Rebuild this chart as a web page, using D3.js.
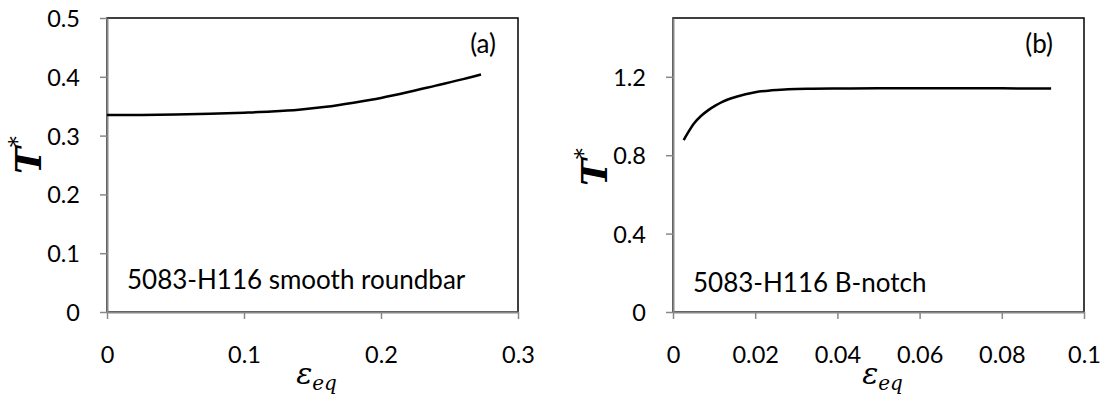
<!DOCTYPE html>
<html>
<head>
<meta charset="utf-8">
<script src="https://cdn.jsdelivr.net/npm/d3@7"></script>
<style>
    body { margin: 0; background: #fff; }
    svg { display: block; }
    .tick-label { font-family: Lato, "Open Sans", sans-serif; font-size: 23.5px; fill: #000; }
    .note { font-family: Lato, "Open Sans", sans-serif; font-size: 26px; fill: #000; }
    .math { font-family: "DejaVu Serif", "Liberation Serif", serif; font-style: italic; fill: #000; }
</style>
</head>
<body>
<svg id="chart" width="1111" height="396"></svg>
<script>
// panel (a): 5083-H116 smooth roundbar
const strainA = [0, 0.025, 0.05, 0.075, 0.1, 0.12, 0.14, 0.16, 0.18, 0.2, 0.22, 0.24, 0.26, 0.273];
const tStarA  = [0.335, 0.3352, 0.336, 0.337, 0.339, 0.341, 0.344, 0.349, 0.356, 0.364, 0.374, 0.385, 0.396, 0.404];
const xTicksA = [0, 0.1, 0.2, 0.3];
const yTicksA = [0, 0.1, 0.2, 0.3, 0.4, 0.5];

// panel (b): 5083-H116 B-notch
const strainB = [0.0026, 0.0035, 0.0051, 0.0068, 0.0086, 0.0104, 0.012, 0.0154, 0.02, 0.024, 0.028, 0.034, 0.041, 0.05, 0.06, 0.07, 0.08, 0.092];
const tStarB  = [0.877, 0.91, 0.962, 1.0, 1.03, 1.054, 1.072, 1.098, 1.121, 1.131, 1.137, 1.139, 1.14, 1.141, 1.141, 1.141, 1.141, 1.14];
const xTicksB = [0, 0.02, 0.04, 0.06, 0.08, 0.1];
const yTicksB = [0, 0.4, 0.8, 1.2];

class Panel {
    constructor(svg, opts) {
        this.svg = svg;
        this.opts = opts;
    }

    draw() {
        const o = this.opts;
        const g = this.svg.append("g");

        const x = d3.scaleLinear().domain(o.xDomain).range([o.left, o.right]);
        const y = d3.scaleLinear().domain(o.yDomain).range([o.bottom, o.top]);

        // plot area frame
        g.append("rect")
            .attr("x", o.left).attr("y", o.top)
            .attr("width", o.right - o.left).attr("height", o.bottom - o.top)
            .attr("fill", "none").attr("stroke", "#000").attr("stroke-width", 1.5);

        const xAxis = g.append("g")
            .attr("transform", `translate(0, ${o.bottom})`)
            .call(d3.axisBottom(x).tickValues(o.xTicks).tickSize(7).tickSizeOuter(0).tickFormat(d => String(d)));
        const yAxis = g.append("g")
            .attr("transform", `translate(${o.left}, 0)`)
            .call(d3.axisLeft(y).tickValues(o.yTicks).tickSize(7).tickSizeOuter(0).tickFormat(d => String(d)));

        [xAxis, yAxis].forEach(ax => {
            ax.select(".domain").attr("stroke", "#888").attr("stroke-width", 2);
            ax.selectAll(".tick line").attr("stroke", "#888").attr("stroke-width", 1.5);
            ax.selectAll(".tick text").attr("class", "tick-label").attr("font-size", null).attr("font-family", null);
        });
        xAxis.selectAll(".tick text").attr("dy", null).attr("y", 51);
        yAxis.selectAll(".tick text").attr("x", -27).attr("dy", "0.36em");

        const line = d3.line()
            .x((d, i) => x(o.xs[i]))
            .y(d => y(d))
            .curve(d3.curveMonotoneX);

        g.append("path")
            .datum(o.ys)
            .attr("d", line)
            .attr("fill", "none")
            .attr("stroke", "#000")
            .attr("stroke-width", 2.5);

        // letter and specimen note
        g.append("text").attr("class", "note")
            .attr("x", o.letterX).attr("y", 53)
            .attr("text-anchor", "end")
            .text(o.letter);
        g.append("text").attr("class", "note")
            .attr("x", o.left + 20).attr("y", o.noteY)
            .text(o.note);

        // x title: epsilon_eq
        const xt = g.append("text").attr("class", "math")
            .attr("x", (o.left + o.right) / 2 + 4).attr("y", 384)
            .attr("text-anchor", "middle");
        xt.append("tspan").attr("font-size", 30).text("ε");
        xt.append("tspan").attr("font-size", 20).attr("dy", 6).text("eq");

        // y title: T*  (reads bottom to top)
        const yt = g.append("text").attr("class", "math")
            .attr("transform", `translate(${o.left - 66}, ${o.titleY}) rotate(-90)`);
        yt.append("tspan").attr("font-size", 36).attr("font-weight", "bold").text("T");
        yt.append("tspan").attr("font-size", 22).attr("dy", -16).attr("font-style", "normal").text("*");
    }
}

const svg = d3.select("#chart");

new Panel(svg, {
    left: 107, right: 518, top: 18, bottom: 312,
    xDomain: [0, 0.3], yDomain: [0, 0.5],
    xTicks: xTicksA, yTicks: yTicksA,
    xs: strainA, ys: tStarA,
    letter: "(a)", letterX: 496, note: "5083-H116 smooth roundbar", noteY: 289,
    titleY: 174
}).draw();

new Panel(svg, {
    left: 673, right: 1084, top: 18, bottom: 312,
    xDomain: [0, 0.1], yDomain: [0, 1.5],
    xTicks: xTicksB, yTicks: yTicksB,
    xs: strainB, ys: tStarB,
    letter: "(b)", letterX: 1053, note: "5083-H116 B-notch", noteY: 292,
    titleY: 186
}).draw();
</script>
</body>
</html>
